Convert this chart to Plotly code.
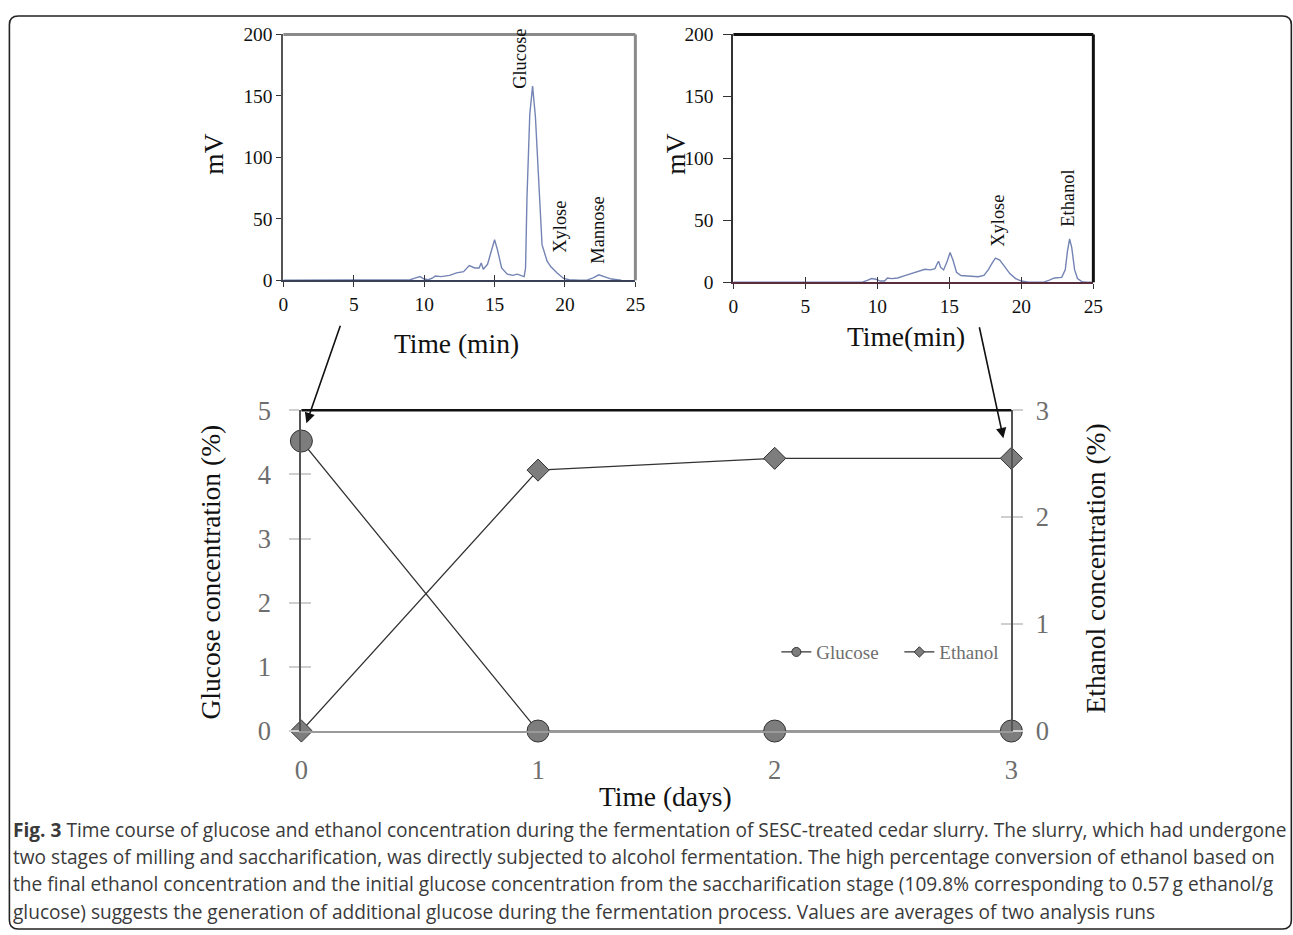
import plotly.graph_objects as go

# Positions below are written in the reference picture's pixels and mapped to
# figure fractions through a measured page->photo mapping of the renderer.
SX, CX = 0.987, -1.3      # photo_x = SX * page_x + CX
SY, CY = 0.969, 5.8       # photo_y = SY * page_y + CY
BODY = 8                  # default body margin of the page
FW, FH = 1303, 951        # figure size in page pixels

# ---------------- data ----------------
# Chromatogram before fermentation (top-left)
t_before = [0, 9.0, 9.4, 9.7, 10.0, 10.3, 10.6, 10.8, 11.2, 11.8, 12.3, 12.8, 13.2, 13.6,
            13.9, 14.05, 14.2, 14.5, 14.8, 15.0, 15.2, 15.5, 15.9, 16.3, 16.6, 16.9, 17.1,
            17.2, 17.3, 17.5, 17.7, 17.9, 18.13, 18.37, 18.73, 19.0, 19.44, 19.9, 20.3,
            21.0, 21.6, 22.0, 22.4, 22.8, 23.3, 24.0]
mv_before = [0, 0.5, 2, 3, 1, 0.5, 2, 3.5, 3, 4, 6, 7, 12, 10,
             10, 14, 9, 13, 25, 33, 25, 10, 5, 4, 5, 4, 3,
             10, 67, 135, 158, 133, 80, 29, 15.5, 11, 6, 1.5, 0.5,
             0, 0.3, 2, 4.5, 3, 1, 0]

# Chromatogram after fermentation (top-right)
t_after = [0, 9.0, 9.3, 9.6, 9.9, 10.2, 10.5, 10.7, 11.0, 11.4, 11.8, 12.2, 12.6, 13.0,
           13.3, 13.7, 14.0, 14.15, 14.25, 14.4, 14.6, 14.85, 15.05, 15.25, 15.5, 15.8,
           16.2, 16.6, 17.0, 17.4, 17.7, 18.0, 18.2, 18.5, 18.8, 19.2, 19.6, 20.0, 20.5,
           21.5, 21.9, 22.3, 22.8, 23.05, 23.2, 23.35, 23.5, 23.7, 23.9, 24.2, 24.5, 25]
mv_after = [0, 0.3, 1.5, 3, 2.5, 1, 1, 3.5, 3, 3.5, 5, 6.5, 7.5, 9,
            10.5, 10, 11, 15, 17, 12, 10, 17, 24, 18, 8, 5.5,
            5, 5, 4.5, 5.5, 10, 16, 19.5, 18, 13, 7, 3, 1, 0,
            0, 1.5, 3.5, 4, 10, 25, 35, 28, 10, 3, 0.5, 0, 0]

# Fermentation time course (bottom)
days = [0, 1, 2, 3]
glucose = [4.52, 0, 0, 0]
ethanol = [0, 2.44, 2.55, 2.55]

chrom_ticks = [0, 5, 10, 15, 20, 25]
mv_ticks = [0, 50, 100, 150, 200]
day_ticks = [0, 1, 2, 3]
glc_ticks = [0, 1, 2, 3, 4, 5]
eth_ticks = [0, 1, 2, 3]

caption_lines = [
    "<b>Fig. 3</b> Time course of glucose and ethanol concentration during the fermentation of SESC-treated cedar slurry. The slurry, which had undergone",
    "two stages of milling and saccharification, was directly subjected to alcohol fermentation. The high percentage conversion of ethanol based on",
    "the final ethanol concentration and the initial glucose concentration from the saccharification stage (109.8% corresponding to 0.57\u2009g ethanol/g",
    "glucose) suggests the generation of additional glucose during the fermentation process. Values are averages of two analysis runs",
]

# ---------------- helpers ----------------
def fxp(r):
    return (r - CX) / SX - BODY

def fyp(r):
    return (r - CY) / SY - BODY

def px(r):
    return fxp(r) / FW

def py(r):
    return 1 - fyp(r) / FH

SERIF = "Liberation Serif, Times New Roman, serif"
CHROM = "#7384b4"
MARK = "#7d7d7d"
LINE = "#333333"
GRAYTXT = "#6e6e6e"

fig = go.Figure()

# chromatograms
fig.add_trace(go.Scatter(x=t_before, y=mv_before, mode="lines", line=dict(color=CHROM, width=1.4),
                         xaxis="x", yaxis="y", showlegend=False, hoverinfo="skip"))
fig.add_trace(go.Scatter(x=t_after, y=mv_after, mode="lines", line=dict(color=CHROM, width=1.4),
                         xaxis="x2", yaxis="y2", showlegend=False, hoverinfo="skip"))

# bottom time course
fig.add_trace(go.Scatter(x=days, y=ethanol, mode="lines+markers", xaxis="x3", yaxis="y4",
                         line=dict(color=LINE, width=1.3),
                         marker=dict(symbol="diamond", size=17, color=MARK, line=dict(color=LINE, width=1)),
                         cliponaxis=False, showlegend=False))
fig.add_trace(go.Scatter(x=days, y=glucose, mode="lines+markers", xaxis="x3", yaxis="y3",
                         line=dict(color=LINE, width=1.3),
                         marker=dict(symbol="circle", size=22, color=MARK, line=dict(color=LINE, width=1)),
                         cliponaxis=False, showlegend=False))
# legend entries (small markers like the original)
fig.add_trace(go.Scatter(x=[None], y=[None], mode="lines+markers", name="Glucose", xaxis="x3", yaxis="y3",
                         line=dict(color=LINE, width=1.3),
                         marker=dict(symbol="circle", size=9, color=MARK, line=dict(color=LINE, width=1))))
fig.add_trace(go.Scatter(x=[None], y=[None], mode="lines+markers", name="Ethanol", xaxis="x3", yaxis="y3",
                         line=dict(color=LINE, width=1.3),
                         marker=dict(symbol="diamond", size=8, color=MARK, line=dict(color=LINE, width=1))))
# invisible traces to realise overlay tick axes (ticks crossing the axis lines)
for xa, ya in [("x5", "y"), ("x6", "y2"), ("x3", "y5"), ("x3", "y6")]:
    fig.add_trace(go.Scatter(x=[None], y=[None], xaxis=xa, yaxis=ya, showlegend=False, hoverinfo="skip"))

d1x = [px(283), px(635)]
d1y = [py(279), py(33)]
d2x = [px(733), px(1093)]
d2y = [py(281), py(33)]
d3x = [px(301), px(1011)]
d3y = [py(730), py(409)]

tickfont_top = dict(family=SERIF, size=19.4, color="#111")
tickfont_bot = dict(family=SERIF, size=26.5, color=GRAYTXT)

fig.update_layout(
    width=FW, height=FH, margin=dict(l=0, r=0, t=0, b=0), autosize=False,
    paper_bgcolor="white", plot_bgcolor="white",
    showlegend=True,
    legend=dict(orientation="h", x=px(776), y=py(651), xanchor="left", yanchor="middle",
                font=dict(family=SERIF, size=19, color=GRAYTXT), bgcolor="rgba(0,0,0,0)",
                itemwidth=30, tracegroupgap=0, entrywidth=78),
    # chart 1
    xaxis=dict(domain=d1x, anchor="y", range=[0, 25], tickvals=chrom_ticks, ticks="outside", ticklen=5,
               tickcolor="#333", tickwidth=1.2, showline=True, linecolor="#3a3f55", linewidth=2,
               showgrid=False, zeroline=False, tickfont=tickfont_top, ticklabelstandoff=0),
    yaxis=dict(domain=d1y, anchor="x", range=[0, 200], tickvals=mv_ticks, ticks="outside", ticklen=5,
               tickcolor="#333", tickwidth=1.2, showline=True, linecolor="#555", linewidth=2,
               showgrid=False, zeroline=False, tickfont=tickfont_top, ticklabelstandoff=0),
    xaxis5=dict(overlaying="x", anchor="y", range=[0, 25], tickvals=chrom_ticks, ticks="inside", ticklen=5,
                tickcolor="#333", tickwidth=1.2, showticklabels=False, showline=False, showgrid=False,
                zeroline=False),
    # chart 2
    xaxis2=dict(domain=d2x, anchor="y2", range=[0, 25], tickvals=chrom_ticks, ticks="outside", ticklen=5,
                tickcolor="#333", tickwidth=1.2, showline=True, linecolor="#5a2d3c", linewidth=2,
                showgrid=False, zeroline=False, tickfont=tickfont_top, ticklabelstandoff=0),
    yaxis2=dict(domain=d2y, anchor="x2", range=[0, 200], tickvals=mv_ticks, ticks="outside", ticklen=8,
                tickcolor="#333", tickwidth=1.2, showline=True, linecolor="#333", linewidth=2,
                showgrid=False, zeroline=False, tickfont=tickfont_top, ticklabelstandoff=6),
    xaxis6=dict(overlaying="x2", anchor="y2", range=[0, 25], tickvals=chrom_ticks, ticks="inside", ticklen=5,
                tickcolor="#333", tickwidth=1.2, showticklabels=False, showline=False, showgrid=False,
                zeroline=False),
    # chart 3
    xaxis3=dict(domain=d3x, anchor="y3", range=[0, 3], tickvals=day_ticks, ticks="", showline=True,
                linecolor="#9a9a9a", linewidth=2, showgrid=False, zeroline=False, tickfont=tickfont_bot,
                ticklabelstandoff=14),
    yaxis3=dict(domain=d3y, anchor="x3", range=[0, 5], tickvals=glc_ticks, ticks="outside", ticklen=10,
                tickcolor="#cfcfcf", tickwidth=1.5, showline=True, linecolor="#555", linewidth=2,
                showgrid=False, zeroline=False, tickfont=tickfont_bot, ticklabelstandoff=13),
    yaxis4=dict(overlaying="y3", anchor="x3", side="right", range=[0, 3], tickvals=eth_ticks, ticks="outside",
                ticklen=10, tickcolor="#cfcfcf", tickwidth=1.5, showline=True, linecolor="#555", linewidth=2,
                showgrid=False, zeroline=False, tickfont=tickfont_bot, ticklabelstandoff=7),
    yaxis5=dict(overlaying="y3", anchor="x3", side="left", range=[0, 5], tickvals=glc_ticks, ticks="inside",
                ticklen=10, tickcolor="#cfcfcf", tickwidth=1.5, showticklabels=False, showline=False,
                showgrid=False, zeroline=False),
    yaxis6=dict(overlaying="y3", anchor="x3", side="right", range=[0, 3], tickvals=eth_ticks, ticks="inside",
                ticklen=10, tickcolor="#cfcfcf", tickwidth=1.5, showticklabels=False, showline=False,
                showgrid=False, zeroline=False),
)

shapes = []
# chart 1 frame (top/right gray)
shapes.append(dict(type="line", xref="x domain", yref="y domain", x0=0, x1=1, y0=1, y1=1,
                   line=dict(color="#8a8a8a", width=3)))
shapes.append(dict(type="line", xref="x domain", yref="y domain", x0=1, x1=1, y0=0, y1=1,
                   line=dict(color="#8a8a8a", width=3)))
# chart 2 frame (top/right black)
shapes.append(dict(type="line", xref="x2 domain", yref="y2 domain", x0=0, x1=1, y0=1, y1=1,
                   line=dict(color="#111", width=3)))
shapes.append(dict(type="line", xref="x2 domain", yref="y2 domain", x0=1, x1=1, y0=0, y1=1,
                   line=dict(color="#111", width=3)))
# chart 3 top frame
shapes.append(dict(type="line", xref="x3 domain", yref="y3 domain", x0=0, x1=1, y0=1, y1=1,
                   line=dict(color="#111", width=2.5)))
# outer rounded border
bx0, bx1 = px(9), px(1291)
by0 = 1 - max(fyp(9), 1.0) / FH
by1 = py(928)
rx, ry = 9 / FW, 9 / FH
path = (f"M {bx0+rx},{by0} L {bx1-rx},{by0} Q {bx1},{by0} {bx1},{by0-ry} "
        f"L {bx1},{by1+ry} Q {bx1},{by1} {bx1-rx},{by1} "
        f"L {bx0+rx},{by1} Q {bx0},{by1} {bx0},{by1+ry} "
        f"L {bx0},{by0-ry} Q {bx0},{by0} {bx0+rx},{by0} Z")
shapes.append(dict(type="path", xref="paper", yref="paper", path=path, line=dict(color="#222", width=1.6)))
fig.update_layout(shapes=shapes)

ann = []
def text(x, y, s, size, angle=0, color="#111", family=SERIF, xanchor="center"):
    ann.append(dict(x=px(x), y=py(y), xref="paper", yref="paper", text=s, showarrow=False,
                    textangle=angle, xanchor=xanchor, yanchor="middle",
                    font=dict(family=family, size=size, color=color)))

# axis titles
text(213, 153, "mV", 27.5, -90)
text(675, 153, "mV", 27.5, -90)
text(456, 342, "Time (min)", 27.5)
text(906, 335, "Time(min)", 27.5)
text(210, 571, "Glucose concentration (%)", 27.5, -90)
text(1095, 567, "Ethanol concentration (%)", 27.5, -90)
text(665, 795, "Time (days)", 27.5)
# peak labels
text(520, 57, "Glucose", 18.4, -90)
text(560, 225, "Xylose", 18.4, -90)
text(598, 229, "Mannose", 18.4, -90)
text(998, 219, "Xylose", 18.4, -90)
text(1068, 197, "Ethanol", 18.4, -90)

# arrows (tail offset given in pixels)
for (xs, ys, xe, ye) in [(340, 326, 306, 422), (979, 328, 1003, 437)]:
    ann.append(dict(x=px(xe), y=py(ye), ax=(xs - xe) / SX, ay=(ys - ye) / SY, xref="paper", yref="paper",
                    axref="pixel", ayref="pixel", text="", showarrow=True, arrowhead=2,
                    arrowsize=1.3, arrowwidth=1.6, arrowcolor="#111"))

# caption
for i, line in enumerate(caption_lines):
    text(11, 829 + i * 27.2, line, 19.1, 0, color="#3a3a3a",
         family="Open Sans, Noto Sans, sans-serif", xanchor="left")

fig.update_layout(annotations=ann)

fig.write_html("out.html")
